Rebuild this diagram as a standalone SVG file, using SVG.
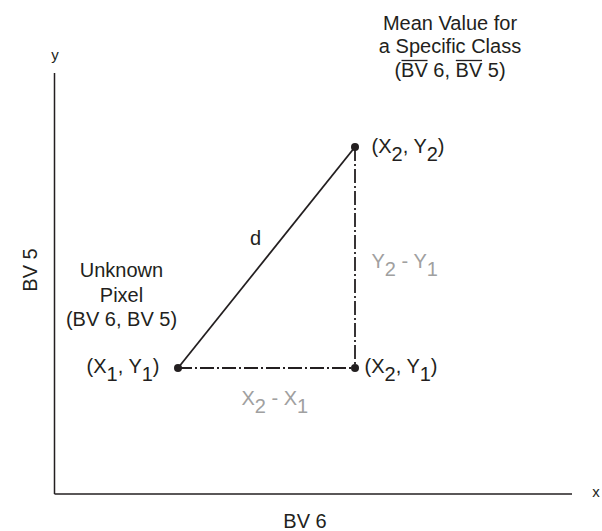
<svg xmlns="http://www.w3.org/2000/svg" width="602" height="531" viewBox="0 0 602 531">
<style>
text{font-family:"Liberation Sans",Arial,sans-serif;font-size:20px;fill:#231f20}
.sm{font-size:15px}
.g{fill:#a0a0a0}
.ax{stroke:#231f20;stroke-width:1.5;fill:none}
.solid{stroke:#231f20;stroke-width:1.8;fill:none}
.dd{stroke:#231f20;stroke-width:1.8;fill:none;stroke-dasharray:14 3 2 3}
.pt{fill:#231f20}
.ov{stroke:#231f20;stroke-width:1.3}
</style>
<rect width="602" height="531" fill="#fff"/>
<g id="axes">
<line class="ax" x1="54.5" y1="73" x2="54.5" y2="494"/>
<line class="ax" x1="54.5" y1="494" x2="572" y2="494"/>
<text class="sm" x="55" y="60" text-anchor="middle">y</text>
<text class="sm" x="596" y="497" text-anchor="middle">x</text>
<text x="305" y="528" text-anchor="middle">BV 6</text>
<text x="0" y="0" text-anchor="middle" transform="translate(36.5,270) rotate(-90)">BV 5</text>
</g>
<g id="connectors">
<line class="solid" x1="178" y1="368" x2="355" y2="147"/>
<line class="dd" x1="178" y1="368" x2="355" y2="368"/>
<line class="dd" x1="355" y1="147" x2="355" y2="368"/>
<text x="250" y="245">d</text>
<text class="g" x="371.5" y="268">Y<tspan dy="8">2</tspan><tspan dy="-8"> - Y</tspan><tspan dy="8">1</tspan></text>
<text class="g" x="241.5" y="405">X<tspan dy="8">2</tspan><tspan dy="-8"> - X</tspan><tspan dy="8">1</tspan></text>
</g>
<g id="node-mean">
<circle class="pt" cx="355" cy="147" r="4"/>
<text x="450" y="29.5" text-anchor="middle">Mean Value for</text>
<text x="450" y="53" text-anchor="middle">a Specific Class</text>
<text x="450" y="77" text-anchor="middle">(BV 6, BV 5)</text>
<line class="ov" x1="401.5" y1="60.5" x2="427.5" y2="60.5"/>
<line class="ov" x1="455.8" y1="60.5" x2="482" y2="60.5"/>
<text x="371.5" y="153">(X<tspan dy="8">2</tspan><tspan dy="-8">, Y</tspan><tspan dy="8">2</tspan><tspan dy="-8">)</tspan></text>
</g>
<g id="node-unknown">
<circle class="pt" cx="178" cy="368" r="4"/>
<text x="121.5" y="277" text-anchor="middle">Unknown</text>
<text x="121.5" y="301.5" text-anchor="middle">Pixel</text>
<text x="121.5" y="326" text-anchor="middle">(BV 6, BV 5)</text>
<text x="86.5" y="373">(X<tspan dy="8">1</tspan><tspan dy="-8">, Y</tspan><tspan dy="8">1</tspan><tspan dy="-8">)</tspan></text>
</g>
<g id="node-corner">
<circle class="pt" cx="355" cy="368" r="4"/>
<text x="364.5" y="373">(X<tspan dy="8">2</tspan><tspan dy="-8">, Y</tspan><tspan dy="8">1</tspan><tspan dy="-8">)</tspan></text>
</g>
</svg>
